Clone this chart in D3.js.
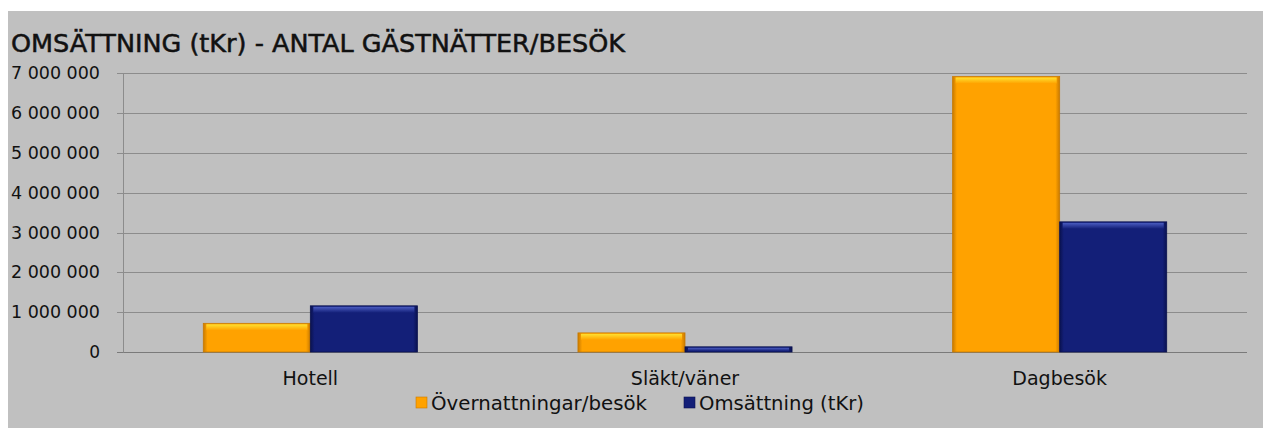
<!DOCTYPE html>
<html>
<head>
<meta charset="utf-8">
<script src="https://cdn.jsdelivr.net/npm/d3@7"></script>
<style>
  body { margin: 0; background: #fff; }
  text { font-family: "DejaVu Sans", Verdana, sans-serif; fill: #111; }
</style>
</head>
<body>
<div id="container"></div>
<script>
var width = 1265, height = 428;

var categories = ["Hotell", "Släkt/väner", "Dagbesök"];
var seriesNames = ["Övernattningar/besök", "Omsättning (tKr)"];
var overnattningar = [720000, 480000, 6920000];
var omsattning = [1160000, 130000, 3270000];
var yTicks = [0, 1000000, 2000000, 3000000, 4000000, 5000000, 6000000, 7000000];

var colors = ["#ffa200", "#131f78"];
var edge = ["#c97a00", "#0a1250"];
var light = ["#ffe030", "#4a5cc0"];

var plot = {left: 123, right: 1247, top: 73.4, bottom: 352};

var x = d3.scaleBand().domain(categories).range([plot.left, plot.right]).paddingInner(0).paddingOuter(0);
var y = d3.scaleLinear().domain([0, 7000000]).range([plot.bottom, plot.top]);

var fmt = function(v) { return d3.format(",")(v).replace(/,/g, " "); };

var translate = function(a, b) { return "translate(" + a + "," + b + ")"; };

function visualize() {
	var svg = d3.select("#container").append("svg")
		.attr("width", width).attr("height", height);

	svg.append("rect")
		.attr("x", 8).attr("y", 11)
		.attr("width", 1255).attr("height", 417)
		.attr("fill", "#c0c0c0");

	svg.append("text")
		.attr("x", 11).attr("y", 52)
		.attr("font-size", 24)
		.attr("stroke", "#111").attr("stroke-width", 0.5)
		.attr("textLength", 614).attr("lengthAdjust", "spacingAndGlyphs")
		.text("OMSÄTTNING (tKr) - ANTAL GÄSTNÄTTER/BESÖK");

	// gridlines
	svg.append("g").selectAll("line").data(yTicks).enter().append("line")
		.attr("x1", plot.left - 6).attr("x2", plot.right)
		.attr("y1", function(d) { return Math.round(y(d)) + 0.5; })
		.attr("y2", function(d) { return Math.round(y(d)) + 0.5; })
		.attr("stroke", function(d) { return d === 0 ? "#7a7a7a" : "#8c8c8c"; });

	// y axis
	var yAxis = d3.axisLeft(y).tickValues(yTicks).tickFormat(fmt).tickSize(0).tickPadding(23);
	var ga = svg.append("g").attr("transform", translate(plot.left, 0)).call(yAxis);
	ga.select(".domain").attr("stroke", "#8c8c8c");
	ga.selectAll("text").attr("font-size", 17).attr("font-family", "DejaVu Sans").attr("fill", "#111")
		.attr("textLength", function(d) { return d === 0 ? null : 89; })
		.attr("lengthAdjust", "spacingAndGlyphs");

	var defs = svg.append("defs");
	[0, 1].forEach(function(i) {
		var g = defs.append("linearGradient").attr("id", "side" + i)
			.attr("x1", 0).attr("x2", 1).attr("y1", 0).attr("y2", 0);
		g.append("stop").attr("offset", "0").attr("stop-color", edge[i]);
		g.append("stop").attr("offset", "0.04").attr("stop-color", colors[i]);
		g.append("stop").attr("offset", "0.96").attr("stop-color", colors[i]);
		g.append("stop").attr("offset", "1").attr("stop-color", edge[i]);
		var t = defs.append("linearGradient").attr("id", "top" + i)
			.attr("x1", 0).attr("x2", 0).attr("y1", 0).attr("y2", 1);
		t.append("stop").attr("offset", "0").attr("stop-color", light[i]);
		t.append("stop").attr("offset", "1").attr("stop-color", colors[i]);
	});

	var bw = x.bandwidth() / 3.5;
	var series = [overnattningar, omsattning];
	series.forEach(function(vals, si) {
		var g = svg.append("g");
		var data = categories.map(function(c, i) { return {c: c, v: vals[i]}; });
		var bx = function(d) { return x(d.c) + x.bandwidth() / 2 - bw + si * bw; };
		g.selectAll("rect.bar").data(data).enter().append("rect")
			.attr("class", "bar")
			.attr("x", bx)
			.attr("y", function(d) { return y(d.v); })
			.attr("width", bw)
			.attr("height", function(d) { return y(0) - y(d.v); })
			.attr("fill", "url(#side" + si + ")")
			.attr("stroke", edge[si]).attr("stroke-width", 0.8);
		g.selectAll("rect.top").data(data).enter().append("rect")
			.attr("class", "top")
			.attr("x", function(d) { return bx(d) + 3; })
			.attr("y", function(d) { return y(d.v) + 1; })
			.attr("width", bw - 6)
			.attr("height", function(d) { return Math.min(6, Math.max(0, y(0) - y(d.v) - 2)); })
			.attr("fill", "url(#top" + si + ")");
	});

	// category labels
	svg.append("g").selectAll("text").data(categories).enter().append("text")
		.attr("x", function(d) { return x(d) + x.bandwidth() / 2; })
		.attr("y", 385)
		.attr("text-anchor", "middle")
		.attr("font-size", 19)
		.text(function(d) { return d; });

	// legend
	var legendX = [416, 684];
	var legendW = [216, 165];
	var leg = svg.append("g").selectAll("g").data(seriesNames).enter().append("g")
		.attr("transform", function(d, i) { return translate(legendX[i], 397); });
	leg.append("rect").attr("width", 11).attr("height", 11).attr("y", 0)
		.attr("fill", function(d, i) { return colors[i]; })
		.attr("stroke", function(d, i) { return edge[i]; }).attr("stroke-width", 0.6);
	leg.append("text").attr("x", 15).attr("y", 13)
		.attr("font-size", 19)
		.attr("textLength", function(d, i) { return legendW[i]; })
		.attr("lengthAdjust", "spacingAndGlyphs")
		.text(function(d) { return d; });
}

window.onload = visualize;
</script>
</body>
</html>
